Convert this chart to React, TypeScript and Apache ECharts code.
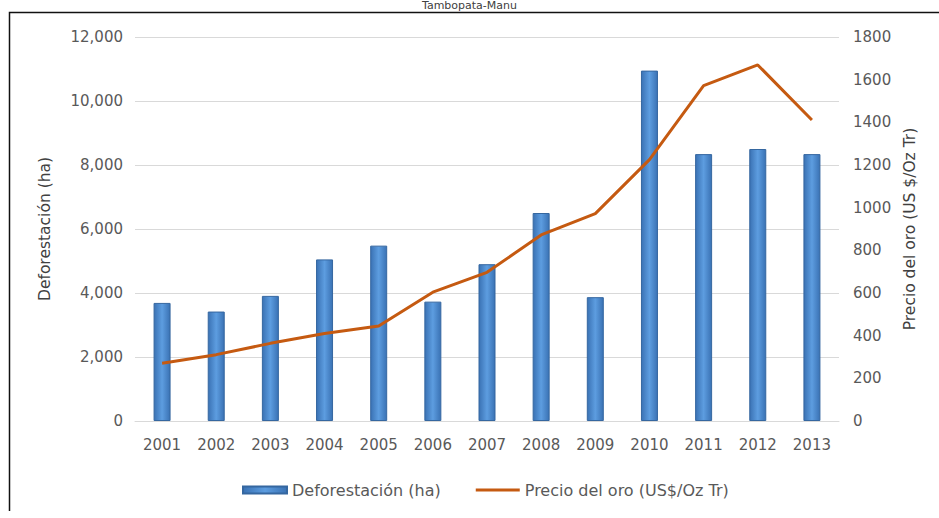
import React, { useEffect, useRef } from "react";
import * as echarts from "echarts";

const years = ["2001", "2002", "2003", "2004", "2005", "2006", "2007", "2008", "2009", "2010", "2011", "2012", "2013"];
const deforestacion = [3690, 3420, 3910, 5050, 5480, 3730, 4900, 6500, 3870, 10950, 8340, 8500, 8340];
const precioOro = [271, 311, 364, 410, 445, 604, 697, 872, 972, 1225, 1572, 1669, 1411];

const FONT = "'DejaVu Sans', sans-serif";
const LABEL = "#595959";

export default function App() {
  const ref = useRef<HTMLDivElement>(null);
  useEffect(() => {
    if (!ref.current) return;
    const chart = echarts.init(ref.current, undefined, { renderer: "svg" });
    chart.setOption({
      animation: false,
      backgroundColor: "#ffffff",
      textStyle: { fontFamily: FONT },
      graphic: [
        {
          type: "text",
          left: "center",
          top: 0,
          style: { text: "Tambopata-Manu", font: `11px ${FONT}`, fill: "#404040" },
          z: 10,
        },
        {
          type: "polyline",
          shape: { points: [[940, 12.5], [9.5, 12.5], [9.5, 511]] },
          style: { stroke: "#111", lineWidth: 1.5, fill: null },
          z: 10,
        },
      ],
      grid: { left: 135, right: 100, top: 37, bottom: 97 },
      legend: {
        bottom: 15,
        left: 237,
        itemWidth: 44,
        itemHeight: 7,
        itemGap: 35,
        textStyle: { fontFamily: FONT, fontSize: 16, color: LABEL },
        data: [
          { name: "Deforestación (ha)", icon: "rect" },
          { name: "Precio del oro (US$/Oz Tr)", icon: "path://M0,0 L44,0 L44,3 L0,3 Z" },
        ],
      },
      xAxis: {
        type: "category",
        data: years,
        axisLine: { show: true, lineStyle: { color: "#d9d9d9" } },
        axisTick: { show: false },
        axisLabel: { color: LABEL, fontSize: 15, margin: 16, fontFamily: FONT },
      },
      yAxis: [
        {
          type: "value",
          min: 0,
          max: 12000,
          interval: 2000,
          name: "Deforestación (ha)",
          nameLocation: "middle",
          nameGap: 82,
          nameRotate: 90,
          nameTextStyle: { color: "#404040", fontSize: 15.5, fontFamily: FONT },
          axisLine: { show: false },
          axisTick: { show: false },
          axisLabel: {
            color: LABEL,
            fontSize: 15,
            margin: 12,
            fontFamily: FONT,
            formatter: (v: number) => v.toLocaleString("en-US"),
          },
          splitLine: { lineStyle: { color: "#d9d9d9" } },
        },
        {
          type: "value",
          min: 0,
          max: 1800,
          interval: 200,
          name: "Precio del oro (US $/Oz Tr)",
          nameLocation: "middle",
          nameGap: 62,
          nameRotate: 90,
          nameTextStyle: { color: "#404040", fontSize: 15.5, fontFamily: FONT },
          axisLine: { show: false },
          axisTick: { show: false },
          axisLabel: {
            color: LABEL,
            fontSize: 15,
            margin: 14,
            fontFamily: FONT,
            formatter: (v: number) => String(v),
          },
          splitLine: { show: false },
        },
      ],
      series: [
        {
          name: "Deforestación (ha)",
          type: "bar",
          data: deforestacion,
          barWidth: 17,
          yAxisIndex: 0,
          itemStyle: {
            color: new echarts.graphic.LinearGradient(0, 0, 1, 0, [
              { offset: 0, color: "#3a72b4" },
              { offset: 0.5, color: "#5d9de0" },
              { offset: 1, color: "#3a72b4" },
            ]),
            borderColor: "#3567a0",
            borderWidth: 1,
          },
        },
        {
          name: "Precio del oro (US$/Oz Tr)",
          type: "line",
          data: precioOro,
          yAxisIndex: 1,
          symbol: "none",
          lineStyle: { color: "#c55a11", width: 3 },
          itemStyle: { color: "#c55a11" },
        },
      ],
    });
    return () => chart.dispose();
  }, []);
  return <div ref={ref} style={{ position: "fixed", left: 0, top: 0, width: 939, height: 518 }} />;
}
